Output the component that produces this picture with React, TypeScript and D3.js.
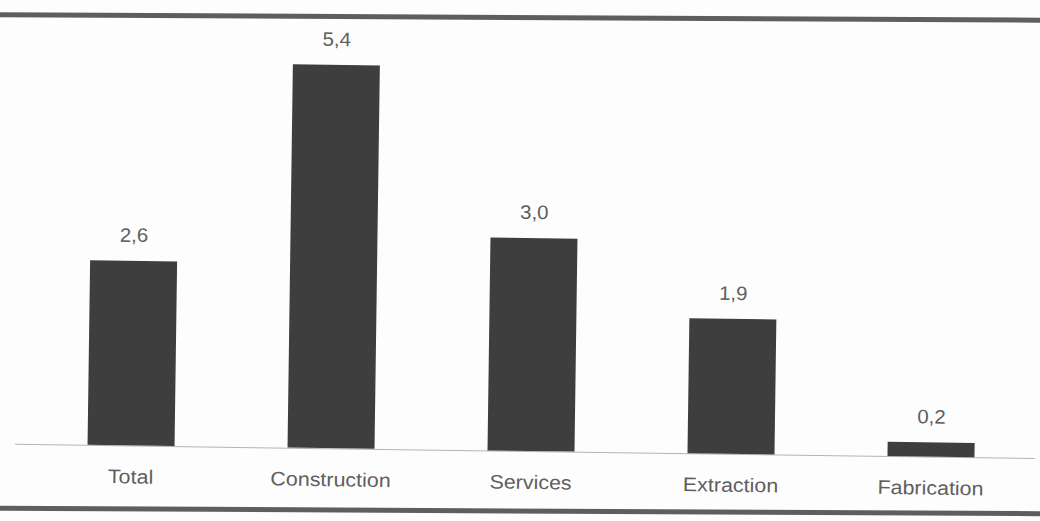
import { useEffect, useRef } from "react";
import * as d3 from "d3";

const categories = ["Total", "Construction", "Services", "Extraction", "Fabrication"];
const values = [2.6, 5.4, 3.0, 1.9, 0.2];
const valueLabels = ["2,6", "5,4", "3,0", "1,9", "0,2"];

const W = 1040;
const H = 521;
const BASE_Y = 451;
const FONT = "'Liberation Sans', Arial, sans-serif";

export default function App() {
  const svgRef = useRef<SVGSVGElement>(null);

  useEffect(() => {
    if (!svgRef.current) return;
    const svg = d3.select(svgRef.current);
    svg.selectAll("*").remove();

    svg.append("rect").attr("width", W).attr("height", H).attr("fill", "#fdfdfd");

    // frame rules (top and bottom), slightly skewed like the scan
    const frame = svg.append("g").attr("transform", `rotate(0.3, ${W / 2}, ${H / 2})`);
    frame.append("line")
      .attr("x1", -10).attr("x2", W + 10)
      .attr("y1", 17.5).attr("y2", 17.5)
      .attr("stroke", "#5e5e5e").attr("stroke-width", 5);
    frame.append("line")
      .attr("x1", -10).attr("x2", W + 10)
      .attr("y1", 511).attr("y2", 511)
      .attr("stroke", "#5e5e5e").attr("stroke-width", 5);

    const g = svg.append("g").attr("transform", `rotate(0.8, 531, ${BASE_Y})`);

    const x = d3.scaleBand<string>()
      .domain(categories)
      .range([31, 1031])
      .paddingInner(0.565)
      .paddingOuter(0.2825);

    const y = d3.scaleLinear().domain([0, 6]).range([BASE_Y, BASE_Y - 426]);

    // baseline
    g.append("line")
      .attr("x1", 15).attr("x2", 1035)
      .attr("y1", BASE_Y + 0.5).attr("y2", BASE_Y + 0.5)
      .attr("stroke", "#b4b4b4").attr("stroke-width", 1);

    // bars
    g.selectAll("rect.bar")
      .data(values)
      .join("rect")
      .attr("class", "bar")
      .attr("x", (_, i) => x(categories[i])!)
      .attr("width", x.bandwidth())
      .attr("y", (d) => y(d))
      .attr("height", (d) => y(0) - y(d))
      .attr("fill", "#3f3e3e");

    // value labels
    g.selectAll("text.val")
      .data(values)
      .join("text")
      .attr("class", "val")
      .attr("transform", (d, i) =>
        `translate(${x(categories[i])! + x.bandwidth() / 2},${y(d) - 19}) scale(1.05,1)`)
      .attr("text-anchor", "middle")
      .attr("font-family", FONT)
      .attr("font-size", 19.5)
      .attr("fill", "#5f5f5f")
      .text((_, i) => valueLabels[i]);

    // category labels
    g.selectAll("text.cat")
      .data(categories)
      .join("text")
      .attr("class", "cat")
      .attr("transform", (d) =>
        `translate(${x(d)! + x.bandwidth() / 2},${BASE_Y + 38}) scale(1.1,1)`)
      .attr("text-anchor", "middle")
      .attr("font-family", FONT)
      .attr("font-size", 19.5)
      .attr("fill", "#5f5f5f")
      .text((d) => d);
  }, []);

  return (
    <div style={{ position: "absolute", left: 0, top: 0 }}>
      <svg ref={svgRef} width={W} height={H} style={{ display: "block" }} />
    </div>
  );
}
